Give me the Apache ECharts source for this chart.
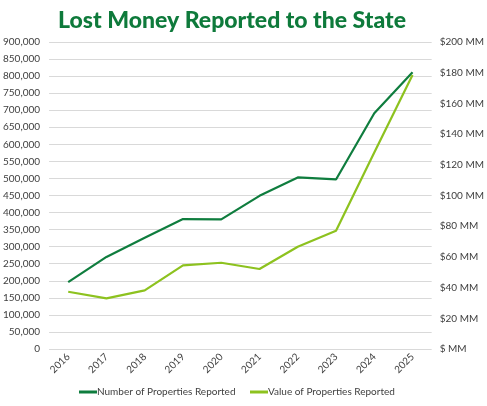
<!DOCTYPE html>
<html>
<head>
<meta charset="utf-8">
<script src="https://cdn.jsdelivr.net/npm/echarts@6/dist/echarts.min.js"></script>
<style>
  html, body { margin: 0; padding: 0; background: #fff; }
  #chart { width: 487px; height: 406px; }
</style>
</head>
<body>
<div id="chart"></div>
<script>
var years = ['2016', '2017', '2018', '2019', '2020', '2021', '2022', '2023', '2024', '2025'];
// number of properties reported (left axis)
var propCount = [196000, 270000, 326000, 381000, 380000, 449000, 503000, 497000, 691000, 811000];
// value of properties reported, $ millions (right axis)
var propValue = [37.3, 33.0, 38.2, 54.5, 56.2, 52.1, 66.6, 77.1, 128, 178.5];

var darkGreen = '#0f7d3e';
var lightGreen = '#8dc21f';
var labelFont = 'Lato, "Liberation Sans", sans-serif';

var legendBase = {
    bottom: 4,
    itemWidth: 18,
    itemHeight: 3,
    icon: 'rect',
    textStyle: { color: '#404040', fontFamily: labelFont, fontSize: 10, padding: [0, 0, 0, -5] }
};

var myChart = echarts.init(document.getElementById('chart'));

myChart.setOption({
    backgroundColor: '#fff',
    animation: false,
    title: {
        text: 'Lost Money Reported to the State',
        left: 227,
        textAlign: 'center',
        top: 4,
        textStyle: {
            color: '#0e7a3b',
            fontFamily: 'Lato, "Open Sans", sans-serif',
            fontWeight: 900,
            fontSize: 23
        }
    },
    legend: [
        Object.assign({ left: 74, data: ['Number of Properties Reported'] }, legendBase),
        Object.assign({ left: 245, data: ['Value of Properties Reported'] }, legendBase)
    ],
    grid: {
        left: 48,
        right: 55,
        top: 42,
        bottom: 57
    },
    xAxis: {
        type: 'category',
        data: years,
        boundaryGap: true,
        axisLine: { show: false },
        axisTick: { show: false },
        axisLabel: {
            rotate: 45,
            color: '#404040',
            fontFamily: labelFont,
            fontSize: 10,
            margin: 6
        }
    },
    yAxis: [{
        type: 'value',
        min: 0,
        max: 900000,
        interval: 50000,
        axisLine: { show: false },
        axisTick: { show: false },
        splitLine: { lineStyle: { color: '#d9d9d9', width: 1 } },
        axisLabel: {
            color: '#404040',
            fontFamily: labelFont,
            fontSize: 10,
            margin: 9,
            formatter: function (v) { return v.toLocaleString('en-US'); }
        }
    }, {
        type: 'value',
        min: 0,
        max: 200,
        interval: 20,
        position: 'right',
        axisLine: { show: false },
        axisTick: { show: false },
        splitLine: { show: false },
        axisLabel: {
            color: '#404040',
            fontFamily: labelFont,
            fontSize: 10,
            margin: 8,
            formatter: function (v) { return v === 0 ? '$ MM' : '$' + v + ' MM'; }
        }
    }],
    series: [{
        name: 'Number of Properties Reported',
        type: 'line',
        yAxisIndex: 0,
        data: propCount,
        symbol: 'none',
        lineStyle: { color: darkGreen, width: 2.2 },
        itemStyle: { color: darkGreen }
    }, {
        name: 'Value of Properties Reported',
        type: 'line',
        yAxisIndex: 1,
        data: propValue,
        symbol: 'none',
        lineStyle: { color: lightGreen, width: 2.2 },
        itemStyle: { color: lightGreen }
    }]
});
</script>
</body>
</html>
